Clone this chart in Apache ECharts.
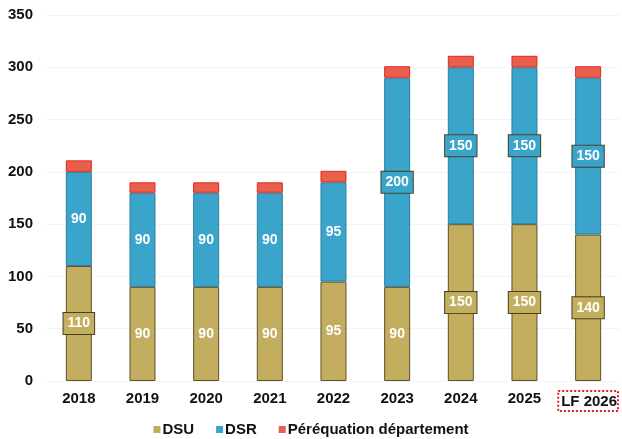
<!DOCTYPE html>
<html>
<head>
<meta charset="utf-8">
<script src="https://cdn.jsdelivr.net/npm/echarts@6/dist/echarts.min.js"></script>
<style>
  html, body { margin: 0; padding: 0; background: #fff; }
  #chart { width: 622px; height: 439px; }
</style>
</head>
<body>
<div id="chart"></div>
<script>
// données
var years = ['2018', '2019', '2020', '2021', '2022', '2023', '2024', '2025', 'LF 2026']
var dsu = [110, 90, 90, 90, 95, 90, 150, 150, 140]
var dsr = [90, 90, 90, 90, 95, 200, 150, 150, 150]
var perequation = [11, 10, 10, 10, 11, 11, 11, 11, 11]
var yTicks = [0, 50, 100, 150, 200, 250, 300, 350]

var colors = ['#c3ad5f', '#3ba4ca', '#e8604c']

// étiquettes : boîte encadrée si la valeur dépasse la largeur de la barre
function withLabels (values, color) {
  return values.map(function (v) {
    if (v < 100) return v
    return {
      value: v,
      label: {
        backgroundColor: color,
        borderColor: '#4a4020',
        borderWidth: 1,
        padding: [4, 4, 3, 4]
      }
    }
  })
}

var chart = echarts.init(document.getElementById('chart'))

var option = {
  animation: false,
  color: colors,
  textStyle: { fontFamily: 'Liberation Sans, Arial, sans-serif' },
  grid: {
    left: 47,
    right: 1,
    top: 15,
    bottom: 58
  },
  legend: {
    bottom: -3,
    left: 'center',
    itemWidth: 7,
    itemHeight: 7,
    itemGap: 22,
    itemStyle: { borderWidth: 0 },
    textStyle: { fontSize: 15, fontWeight: 'bold', color: '#111', padding: [0, 0, 0, -3] },
    data: [
      { name: 'DSU', icon: 'rect' },
      { name: 'DSR', icon: 'rect' },
      { name: 'Péréquation département', icon: 'rect' }
    ]
  },
  xAxis: {
    type: 'category',
    data: years,
    axisLine: { show: false },
    axisTick: { show: false },
    axisLabel: {
      interval: 0,
      margin: 10,
      fontSize: 15,
      fontWeight: 'bold',
      color: '#111',
      formatter: function (v) {
        return v.indexOf('LF') === 0 ? '{lf|' + v + '}' : v
      },
      rich: {
        lf: {
          fontSize: 15,
          fontWeight: 'bold',
          color: '#111',
          borderColor: '#e02020',
          borderWidth: 2,
          borderType: 'dotted',
          padding: [3, 1, 2, 3]
        }
      }
    }
  },
  yAxis: {
    type: 'value',
    min: yTicks[0],
    max: yTicks[yTicks.length - 1],
    interval: 50,
    axisLine: { show: false },
    axisTick: { show: false },
    axisLabel: {
      margin: 14,
      fontSize: 15,
      fontWeight: 'bold',
      color: '#111'
    },
    splitLine: { lineStyle: { color: '#f2f5f8', width: 1 } }
  },
  series: [
    {
      name: 'DSU',
      type: 'bar',
      stack: 'total',
      barWidth: 26,
      data: withLabels(dsu, colors[0]),
      itemStyle: { color: colors[0], borderColor: '#5e5128', borderWidth: 1 },
      label: {
        show: true,
        position: 'inside',
        color: '#fff',
        fontSize: 14,
        fontWeight: 'bold'
      }
    },
    {
      name: 'DSR',
      type: 'bar',
      stack: 'total',
      barWidth: 26,
      data: withLabels(dsr, colors[1]),
      itemStyle: { color: colors[1], borderColor: '#2d7fa0', borderWidth: 1 },
      label: {
        show: true,
        position: 'inside',
        color: '#fff',
        fontSize: 14,
        fontWeight: 'bold'
      }
    },
    {
      name: 'Péréquation département',
      type: 'bar',
      stack: 'total',
      barWidth: 26,
      data: perequation,
      itemStyle: { color: colors[2], borderColor: '#e8221e', borderWidth: 1 }
    }
  ]
}

chart.setOption(option)
</script>
</body>
</html>
